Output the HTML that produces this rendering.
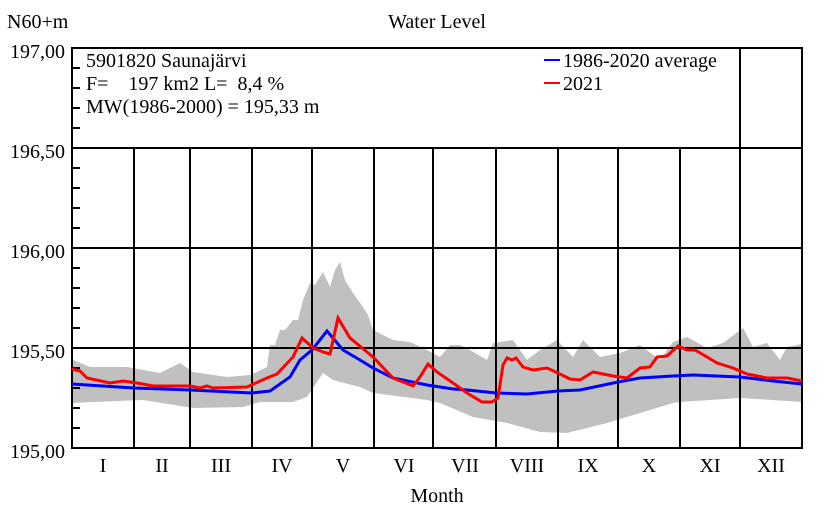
<!DOCTYPE html>
<html><head><meta charset="utf-8"><style>
html,body{margin:0;padding:0;background:#fff}
svg{display:block;font-family:"Liberation Serif",serif}
</style></head><body>
<svg width="840" height="520" viewBox="0 0 840 520" xmlns="http://www.w3.org/2000/svg">
<rect width="840" height="520" fill="#fff"/>
<polygon fill="#c0c0c0" points="72,350 73,360 90,367 127,367 160,373 180,363 193,372 227,377 250,375 267,367 270,345 275,345 280,330 285,330 293,320 298,320 303,300 310,283 315,285 323,272 330,287 335,270 340,262 345,280 353,293 363,307 368,315 373,330 393,340 410,342 427,350 440,357 450,345 460,345 470,350 487,360 493,343 513,340 527,360 540,350 557,340 573,357 583,340 600,357 620,353 640,345 660,360 673,342 687,337 707,348 723,343 743,328 753,347 767,343 780,360 787,347 802,344 802,402 740,398 680,402 673,403 640,413 607,423 567,433 540,432 507,423 473,417 440,403 427,400 373,393 360,387 333,380 323,373 307,397 293,402 260,402 243,407 193,408 143,400 93,402 72,403"/>
<g stroke="#000" stroke-width="2" fill="none">
<line x1="72" y1="148" x2="802" y2="148"/>
<line x1="72" y1="248" x2="802" y2="248"/>
<line x1="72" y1="348" x2="802" y2="348"/>
<path d="M134 148V448M190 148V448M252 148V448M312 148V448M374 148V448M433 148V448M496 148V448M558 148V448M618 148V448M680 148V448M740 48V448"/>
<rect x="72" y="48" width="730" height="400"/>
<path d="M72 68H80M72 88H80M72 108H80M72 128H80M72 168H80M72 188H80M72 208H80M72 228H80M72 268H80M72 288H80M72 308H80M72 328H80M72 368H80M72 388H80M72 408H80M72 428H80"/>
</g>
<polyline fill="none" stroke="#0000ff" stroke-width="3" points="72,384 134,388 190,390 252,393 270,391 290,377 300,360 312,350 327,331 343,350 360,360 373,368 393,378 427,385 453,389 467,390 496,393 527,394 558,391 580,390 618,382 640,378 673,376 693,375 740,377 773,381 802,384"/>
<polyline fill="none" stroke="#ff0000" stroke-width="3" points="72,369 80,371 87,378 110,383 123,381 137,383 153,386 190,386 200,388 207,386 213,388 247,387 267,378 277,374 293,357 302,338 313,348 323,352 330,354 338,318 350,338 373,357 393,378 413,386 420,377 428,364 437,372 453,383 467,393 482,402 492,402 498,398 503,365 507,358 512,360 516,358 523,367 533,370 547,368 560,374 570,379 580,380 593,372 613,376 627,378 640,368 650,367 657,357 667,356 678,346 687,350 695,350 707,357 717,363 733,368 747,374 767,378 787,378 802,381"/>
<line x1="544" y1="60" x2="560" y2="60" stroke="#0000ff" stroke-width="2"/>
<line x1="544" y1="83" x2="560" y2="83" stroke="#ff0000" stroke-width="2"/>
<g font-size="20" fill="#000">
<text x="563" y="67">1986-2020 average</text>
<text x="563" y="90">2021</text>
<text x="86" y="67">5901820 Saunajärvi</text>
<text x="86" y="90" xml:space="preserve">F=    197 km2 L=  8,4 %</text>
<text x="86" y="113">MW(1986-2000) = 195,33 m</text>
<text x="7" y="28">N60+m</text>
<text x="437" y="28" text-anchor="middle">Water Level</text>
<text x="437" y="502" text-anchor="middle">Month</text>
<g text-anchor="end">
<text x="65" y="58">197,00</text>
<text x="65" y="158">196,50</text>
<text x="65" y="258">196,00</text>
<text x="65" y="358">195,50</text>
<text x="65" y="458">195,00</text>
</g>
<g text-anchor="middle">
<text x="103" y="472">I</text>
<text x="162" y="472">II</text>
<text x="221" y="472">III</text>
<text x="282" y="472">IV</text>
<text x="343" y="472">V</text>
<text x="404" y="472">VI</text>
<text x="465" y="472">VII</text>
<text x="527" y="472">VIII</text>
<text x="588" y="472">IX</text>
<text x="649" y="472">X</text>
<text x="710" y="472">XI</text>
<text x="771" y="472">XII</text>
</g>
</g>
</svg>
</body></html>
